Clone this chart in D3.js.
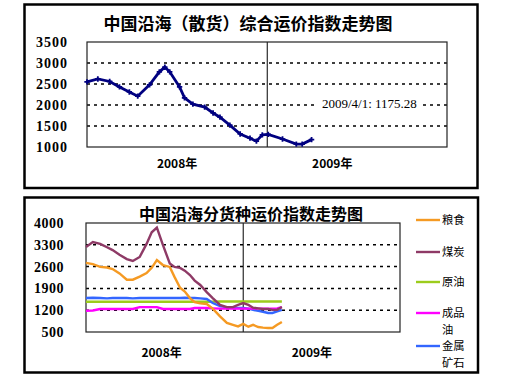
<!DOCTYPE html>
<html>
<head>
<meta charset="utf-8">
<script src="https://cdn.jsdelivr.net/npm/d3@7"></script>
<style>
  body { margin: 0; background: #fff; }
  svg { display: block; }
</style>
</head>
<body>
<div id="chart"></div>
<script>
// Composite index (top) and per-cargo indices (bottom), 2008 - 2009/4/1

const topTitle = "中国沿海（散货）综合运价指数走势图";
const topDates = ["2008-01-01", "2008-01-23", "2008-02-16", "2008-03-07", "2008-03-27", "2008-04-13",
    "2008-05-07", "2008-05-27", "2008-06-07", "2008-06-17", "2008-07-07", "2008-07-17", "2008-08-03",
    "2008-08-27", "2008-09-13", "2008-09-27", "2008-10-17", "2008-11-07", "2008-11-27", "2008-12-10",
    "2008-12-22", "2009-01-03", "2009-02-01", "2009-03-01", "2009-03-13", "2009-04-01"];
const topValues = [2550, 2620, 2560, 2430, 2310, 2210, 2480, 2790, 2900, 2790, 2430, 2170, 2020,
    1950, 1810, 1710, 1520, 1310, 1210, 1140, 1290, 1300, 1190, 1070, 1070, 1175.28];
const topTicks = [1000, 1500, 2000, 2500, 3000, 3500];
const topNote = "2009/4/1: 1175.28";

const botTitle = "中国沿海分货种运价指数走势图";
const botDates = ["2008-01-01", "2008-01-17", "2008-02-03", "2008-02-19", "2008-03-03", "2008-03-19",
    "2008-04-05", "2008-04-19", "2008-05-05", "2008-05-21", "2008-06-02", "2008-06-14", "2008-06-28",
    "2008-07-14", "2008-07-25", "2008-08-07", "2008-08-18", "2008-08-30", "2008-09-10", "2008-09-23",
    "2008-10-08", "2008-10-22", "2008-11-08", "2008-11-24", "2008-12-08", "2008-12-20", "2009-01-01",
    "2009-01-13", "2009-01-24", "2009-02-05", "2009-02-16", "2009-02-28", "2009-03-10", "2009-03-21",
    "2009-04-01"];
const grain = [2720, 2680, 2590, 2570, 2520, 2380, 2180, 2180, 2280, 2390, 2560, 2810, 2650,
    2590, 2270, 1920, 1800, 1590, 1460, 1420, 1400, 1250, 1000, 790, 730, 680, 760,
    670, 730, 660, 640, 630, 630, 730, 820];
const coal = [3230, 3390, 3330, 3220, 3130, 2980, 2840, 2780, 2910, 3330, 3700, 3850, 3300,
    2700, 2590, 2560, 2470, 2330, 2150, 2010, 1780, 1590, 1370, 1300, 1300, 1370, 1430,
    1370, 1280, 1260, 1240, 1240, 1210, 1210, 1300];
const crude = [1470, 1470, 1470, 1470, 1470, 1470, 1470, 1470, 1470, 1470, 1470, 1470, 1470,
    1470, 1470, 1470, 1470, 1470, 1470, 1470, 1470, 1470, 1480, 1480, 1480, 1480, 1480,
    1480, 1480, 1480, 1480, 1480, 1480, 1480, 1480];
const refined = [1180, 1190, 1240, 1240, 1240, 1240, 1240, 1240, 1300, 1300, 1300, 1300, 1240,
    1240, 1240, 1240, 1240, 1240, 1270, 1270, 1270, 1260, 1250, 1250, 1250, 1250, 1250,
    1250, 1250, 1250, 1250, 1250, 1250, 1260, 1300];
const metals = [1590, 1600, 1590, 1580, 1590, 1590, 1590, 1580, 1590, 1590, 1590, 1590, 1590,
    1590, 1590, 1590, 1600, 1590, 1590, 1580, 1560, 1430, 1330, 1290, 1270, 1270, 1270,
    1250, 1210, 1180, 1150, 1110, 1110, 1160, 1210];
const botTicks = [500, 1200, 1900, 2600, 3300, 4000];

const seriesNames = ["粮食", "煤炭", "原油", "成品油", "金属矿石"];
const seriesValues = [grain, coal, crude, refined, metals];
const seriesColors = ["#f59a23", "#8e3a66", "#9ccc1c", "#ff00ff", "#3366ff"];

const yearLabels = ["2008年", "2009年"];
const topYearAt = ["2008-07-02", "2009-05-13"];
const botYearAt = ["2008-06-25", "2009-06-10"];

const parse = d3.timeParse("%Y-%m-%d");
const W = 512, H = 384;
const serif = "'Liberation Serif', 'DejaVu Serif', serif";
const cjk = "'Noto Sans CJK SC', 'Noto Sans', sans-serif";

const svg = d3.select("#chart").append("svg")
    .attr("width", W)
    .attr("height", H);

// ---------- top panel ----------
svg.append("rect")
    .attr("x", 24.5).attr("y", 4.5).attr("width", 453).attr("height", 183.5)
    .attr("fill", "#fff").attr("stroke", "#000").attr("stroke-width", 2.5);

svg.append("text")
    .attr("x", 248).attr("y", 30)
    .attr("text-anchor", "middle")
    .attr("font-family", cjk).attr("font-size", 17).attr("font-weight", "bold")
    .text(topTitle);

const xTop = d3.scaleTime()
    .domain([parse("2008-01-01"), parse("2010-01-01")])
    .range([87, 447]);
const yTop = d3.scaleLinear().domain([1000, 3500]).range([147, 42]);

svg.append("g")
    .selectAll("line")
    .data(topTicks.filter(v => v > 1000 && v < 3500))
    .join("line")
    .attr("x1", 87).attr("x2", 447)
    .attr("y1", d => yTop(d)).attr("y2", d => yTop(d))
    .attr("stroke", "#000").attr("stroke-width", 1.5).attr("stroke-dasharray", "3,4");

svg.append("line")
    .attr("x1", xTop(parse("2009-01-01"))).attr("x2", xTop(parse("2009-01-01")))
    .attr("y1", 42).attr("y2", 147)
    .attr("stroke", "#000");

svg.append("rect")
    .attr("x", 87).attr("y", 42).attr("width", 360).attr("height", 105)
    .attr("fill", "none").attr("stroke", "#222").attr("stroke-width", 1.2);

const yTopAxis = svg.append("g")
    .attr("transform", "translate(68,0)")
    .call(d3.axisLeft(yTop).tickValues(topTicks).tickSize(0).tickPadding(0).tickFormat(d3.format("d")));
yTopAxis.select(".domain").remove();
yTopAxis.selectAll("text")
    .attr("font-family", serif).attr("font-size", 14).attr("font-weight", "bold")
    .attr("letter-spacing", 1).attr("fill", "#000");

const topPts = topDates.map((d, i) => [parse(d), topValues[i]]);
svg.append("path")
    .datum(topPts)
    .attr("fill", "none")
    .attr("stroke", "#000080")
    .attr("stroke-width", 2.8)
    .attr("d", d3.line().x(d => xTop(d[0])).y(d => yTop(d[1])));

svg.append("g")
    .selectAll("path")
    .data(topPts)
    .join("path")
    .attr("transform", d => `translate(${xTop(d[0])},${yTop(d[1])})`)
    .attr("d", d3.symbol(d3.symbolCross, 16))
    .attr("fill", "#000080");

// annotation with a white box that breaks the gridline
const note = svg.append("g");
const noteText = note.append("text")
    .attr("x", 322).attr("y", 108)
    .attr("font-family", serif).attr("font-size", 13)
    .text(topNote);
const nb = noteText.node().getBBox();
note.insert("rect", "text")
    .attr("x", nb.x - 6).attr("y", nb.y)
    .attr("width", nb.width + 12).attr("height", nb.height)
    .attr("fill", "#fff");

svg.append("g")
    .selectAll("text")
    .data(yearLabels)
    .join("text")
    .attr("x", (d, i) => xTop(parse(topYearAt[i])))
    .attr("y", 168)
    .attr("text-anchor", "middle")
    .attr("font-family", cjk).attr("font-size", 12).attr("font-weight", "bold")
    .text(d => d);

// ---------- bottom panel ----------
svg.append("rect")
    .attr("x", 24.5).attr("y", 197.5).attr("width", 453.5).attr("height", 175)
    .attr("fill", "#fff").attr("stroke", "#000").attr("stroke-width", 2.5);

svg.append("text")
    .attr("x", 251).attr("y", 220)
    .attr("text-anchor", "middle")
    .attr("font-family", cjk).attr("font-size", 16).attr("font-weight", "bold")
    .text(botTitle);

const xBot = d3.scaleTime()
    .domain([parse("2008-01-01"), parse("2010-01-01")])
    .range([86, 400]);
const yBot = d3.scaleLinear().domain([500, 4000]).range([332, 223]);

svg.append("g")
    .selectAll("line")
    .data(botTicks.filter(v => v > 500 && v < 4000))
    .join("line")
    .attr("x1", 86).attr("x2", 400)
    .attr("y1", d => yBot(d)).attr("y2", d => yBot(d))
    .attr("stroke", "#000").attr("stroke-width", 1.5).attr("stroke-dasharray", "3,4");

svg.append("line")
    .attr("x1", xBot(parse("2009-01-01"))).attr("x2", xBot(parse("2009-01-01")))
    .attr("y1", 223).attr("y2", 332)
    .attr("stroke", "#000");

svg.append("rect")
    .attr("x", 86).attr("y", 223).attr("width", 314).attr("height", 109)
    .attr("fill", "none").attr("stroke", "#222").attr("stroke-width", 1.2);

const yBotAxis = svg.append("g")
    .attr("transform", "translate(64,0)")
    .call(d3.axisLeft(yBot).tickValues(botTicks).tickSize(0).tickPadding(0).tickFormat(d3.format("d")));
yBotAxis.select(".domain").remove();
yBotAxis.selectAll("text")
    .attr("font-family", serif).attr("font-size", 14).attr("font-weight", "bold")
    .attr("letter-spacing", 0.5).attr("fill", "#000");

const botLine = d3.line()
    .x((d, i) => xBot(parse(botDates[i])))
    .y(d => yBot(d));

// draw order so grain and coal sit over the flat series
const drawOrder = [2, 4, 3, 1, 0];
svg.append("g")
    .selectAll("path")
    .data(drawOrder)
    .join("path")
    .attr("fill", "none")
    .attr("stroke", i => seriesColors[i])
    .attr("stroke-width", 2.4)
    .attr("d", i => botLine(seriesValues[i]));

svg.append("g")
    .selectAll("text")
    .data(yearLabels)
    .join("text")
    .attr("x", (d, i) => xBot(parse(botYearAt[i])))
    .attr("y", 357)
    .attr("text-anchor", "middle")
    .attr("font-family", cjk).attr("font-size", 12).attr("font-weight", "bold")
    .text(d => d);

// legend
const legendRows = [
    { y: 220, lines: ["粮食"] },
    { y: 252, lines: ["煤炭"] },
    { y: 282, lines: ["原油"] },
    { y: 313, lines: ["成品", "油"] },
    { y: 346, lines: ["金属", "矿石"] }
];
const legend = svg.append("g")
    .selectAll("g")
    .data(legendRows)
    .join("g")
    .attr("transform", d => `translate(416,${d.y})`);

legend.append("line")
    .attr("x1", 0).attr("x2", 24)
    .attr("stroke", (d, i) => seriesColors[i])
    .attr("stroke-width", 2.4);

legend.append("text")
    .attr("x", 26)
    .attr("font-family", cjk).attr("font-size", 11.3)
    .selectAll("tspan")
    .data(d => d.lines)
    .join("tspan")
    .attr("x", 26)
    .attr("y", (d, i) => 4.2 + i * 16.5)
    .text(d => d);
</script>
</body>
</html>
